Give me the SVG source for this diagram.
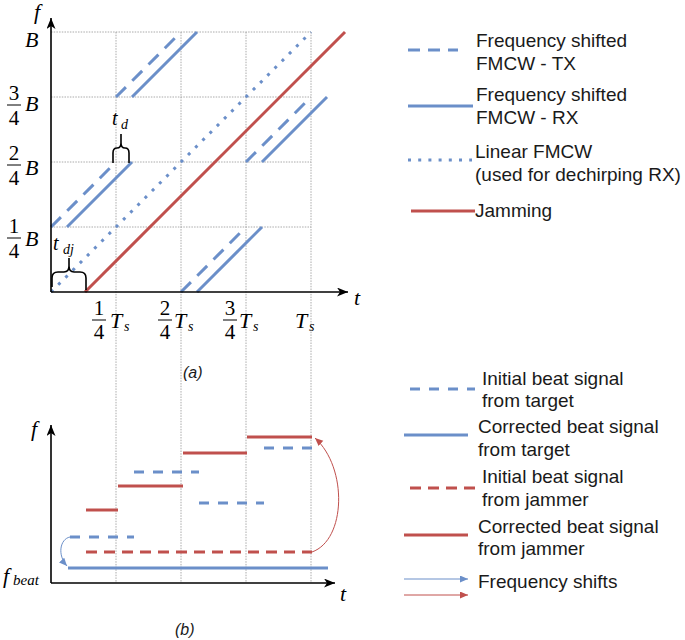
<svg xmlns="http://www.w3.org/2000/svg" width="685" height="640" viewBox="0 0 685 640">
<style>
.grid{stroke:#a0a0a0;stroke-width:0.9;stroke-dasharray:1.5 1.2;fill:none}
.axis{stroke:#000;stroke-width:1.6;fill:none}
.b{stroke:#6b8fc9;stroke-width:3;fill:none}
.r{stroke:#c0504d;stroke-width:3;fill:none}
.bd{stroke-dasharray:14 9}
.bd2{stroke-dasharray:10 9}
.rd{stroke-dasharray:11 7}
.dot{stroke-dasharray:3 7.2}
.m{font-family:"Liberation Serif","DejaVu Serif",serif;font-style:italic;fill:#000}
.n{font-family:"Liberation Serif","DejaVu Serif",serif;fill:#000;font-size:21px;text-anchor:middle}
.lg{font-family:"Liberation Sans",Arial,sans-serif;font-size:19px;fill:#1a1a1a}
.cap{font-family:"Liberation Sans",Arial,sans-serif;font-size:16px;font-style:italic;fill:#1a1a1a}
.bar{stroke:#000;stroke-width:1}
.brace{stroke:#000;stroke-width:1.6;fill:none}
</style>
<defs>
<marker id="ax" markerWidth="12" markerHeight="10" refX="11" refY="4.5" orient="auto" markerUnits="userSpaceOnUse"><path d="M0,0 L11,4.5 L0,9 L3,4.5 z" fill="#000"/></marker>
<marker id="ab" markerWidth="9" markerHeight="8" refX="8" refY="3.5" orient="auto" markerUnits="userSpaceOnUse"><path d="M0,0 L8,3.5 L0,7 z" fill="#6b8fc9"/></marker>
<marker id="ar" markerWidth="9" markerHeight="8" refX="8" refY="3.5" orient="auto" markerUnits="userSpaceOnUse"><path d="M0,0 L8,3.5 L0,7 z" fill="#c0504d"/></marker>
</defs>
<rect width="685" height="640" fill="#fff"/>

<g id="grid">
<line class="grid" x1="51" y1="32" x2="311" y2="32"/>
<line class="grid" x1="51" y1="97" x2="311" y2="97"/>
<line class="grid" x1="51" y1="162" x2="311" y2="162"/>
<line class="grid" x1="51" y1="227" x2="311" y2="227"/>
<line class="grid" x1="116" y1="32" x2="116" y2="583"/>
<line class="grid" x1="181" y1="32" x2="181" y2="583"/>
<line class="grid" x1="246" y1="32" x2="246" y2="583"/>
<line class="grid" x1="311" y1="32" x2="311" y2="583"/>
</g>

<g id="plot-a-series">
<line class="r" x1="85" y1="292" x2="345" y2="32"/>
<line class="b dot" x1="51" y1="292" x2="311" y2="32"/>
<line class="b bd" x1="51" y1="227" x2="116" y2="162"/>
<line class="b bd" x1="116" y1="97" x2="181" y2="32"/>
<line class="b bd" x1="181" y1="292" x2="246" y2="227"/>
<line class="b bd" x1="246" y1="162" x2="311" y2="97"/>
<line class="b" x1="67" y1="227" x2="132" y2="162"/>
<line class="b" x1="132" y1="97" x2="197" y2="32"/>
<line class="b" x1="197" y1="292" x2="262" y2="227"/>
<line class="b" x1="262" y1="162" x2="327" y2="97"/>
</g>

<g id="axes-a">
<line class="axis" x1="51" y1="292" x2="51" y2="18" marker-end="url(#ax)"/>
<line class="axis" x1="51" y1="292" x2="348" y2="292" marker-end="url(#ax)"/>
<text class="m" x="34" y="19" font-size="22">f</text>
<text class="m" x="354" y="305" font-size="22">t</text>
</g>

<g id="braces">
<path class="brace" d="M113,163 V153 Q113,148 117,148 Q121,148 121,143 V134 M121,143 Q121,148 125,148 Q129,148 129,153 V163"/>
<text class="m" x="112" y="125" font-size="20">t</text>
<text class="m" x="121" y="129" font-size="14">d</text>
<path class="brace" d="M52,287 V278 Q52,272 58,272 H64 Q69,272 69,266 V258 M69,266 Q69,272 74,272 H80 Q86,272 86,278 V290"/>
<text class="m" x="53" y="250" font-size="20">t</text>
<text class="m" x="63" y="254" font-size="14">dj</text>
</g>

<g id="y-labels">
<text class="m" x="25" y="47" font-size="22">B</text>
<text class="n" x="14" y="100">3</text><line class="bar" x1="7" y1="105" x2="21" y2="105"/><text class="n" x="14" y="125">4</text>
<text class="m" x="25" y="111" font-size="22">B</text>
<text class="n" x="14" y="160">2</text><line class="bar" x1="7" y1="165" x2="21" y2="165"/><text class="n" x="14" y="185">4</text>
<text class="m" x="25" y="175" font-size="22">B</text>
<text class="n" x="14" y="233">1</text><line class="bar" x1="7" y1="238" x2="21" y2="238"/><text class="n" x="14" y="258">4</text>
<text class="m" x="25" y="246" font-size="22">B</text>
</g>

<g id="x-labels">
<text class="n" x="99" y="315">1</text><line class="bar" x1="92" y1="320" x2="106" y2="320"/><text class="n" x="99" y="339">4</text>
<text class="m" x="110" y="328" font-size="22">T</text><text class="m" x="124" y="331" font-size="14">s</text>
<text class="n" x="165" y="315">2</text><line class="bar" x1="158" y1="320" x2="172" y2="320"/><text class="n" x="165" y="339">4</text>
<text class="m" x="174" y="328" font-size="22">T</text><text class="m" x="188" y="331" font-size="14">s</text>
<text class="n" x="230" y="315">3</text><line class="bar" x1="223" y1="320" x2="237" y2="320"/><text class="n" x="230" y="339">4</text>
<text class="m" x="239" y="328" font-size="22">T</text><text class="m" x="253" y="331" font-size="14">s</text>
<text class="m" x="295" y="328" font-size="22">T</text><text class="m" x="309" y="331" font-size="14">s</text>
</g>

<text class="cap" x="183" y="378">(a)</text>

<g id="legend-a">
<line class="b" x1="408" y1="50" x2="458" y2="50" style="stroke-dasharray:12 8"/>
<text class="lg" x="476" y="47">Frequency shifted</text>
<text class="lg" x="476" y="70">FMCW - TX</text>
<line class="b" x1="408" y1="106" x2="473" y2="106"/>
<text class="lg" x="476" y="101">Frequency shifted</text>
<text class="lg" x="476" y="124">FMCW - RX</text>
<line class="b dot" x1="408" y1="160" x2="472" y2="160"/>
<text class="lg" x="475" y="158">Linear FMCW</text>
<text class="lg" x="475" y="181">(used for dechirping RX)</text>
<line class="r" x1="411" y1="211" x2="475" y2="211"/>
<text class="lg" x="475" y="217">Jamming</text>
</g>

<g id="plot-b-series">
<line class="r" x1="86" y1="510" x2="118" y2="510"/>
<line class="r" x1="118" y1="486" x2="183" y2="486"/>
<line class="r" x1="183" y1="453" x2="247" y2="453"/>
<line class="r" x1="247" y1="437" x2="312" y2="437"/>
<line class="b bd2" x1="70" y1="537" x2="134" y2="537"/>
<line class="b bd2" x1="134" y1="472" x2="199" y2="472"/>
<line class="b bd2" x1="199" y1="503" x2="264" y2="503"/>
<line class="b bd2" x1="264" y1="448" x2="312" y2="448"/>
<line class="r rd" x1="86" y1="552" x2="312" y2="552"/>
<line class="b" x1="68" y1="568" x2="328" y2="568"/>
</g>

<g id="connectors">
<path d="M70,537 C60,539 57,555 67,566" stroke="#6b8fc9" stroke-width="1" fill="none" marker-end="url(#ab)"/>
<path d="M312,552 C346,540 348,468 315,438" stroke="#c0504d" stroke-width="1" fill="none" marker-end="url(#ar)"/>
</g>

<g id="axes-b">
<line class="axis" x1="51" y1="583" x2="51" y2="425" marker-end="url(#ax)"/>
<line class="axis" x1="51" y1="583" x2="335" y2="583" marker-end="url(#ax)"/>
<text class="m" x="31" y="436" font-size="22">f</text>
<text class="m" x="3" y="583" font-size="22">f</text>
<text class="m" x="13" y="585" font-size="15">beat</text>
<text class="m" x="340" y="601" font-size="22">t</text>
</g>

<text class="cap" x="175" y="635">(b)</text>

<g id="legend-b">
<line class="b bd2" x1="410" y1="389" x2="475" y2="389"/>
<text class="lg" x="482" y="385">Initial beat signal</text>
<text class="lg" x="482" y="407">from target</text>
<line class="b" x1="404" y1="435" x2="468" y2="435"/>
<text class="lg" x="478" y="433">Corrected beat signal</text>
<text class="lg" x="478" y="456">from target</text>
<line class="r rd" x1="410" y1="488" x2="475" y2="488"/>
<text class="lg" x="482" y="483">Initial beat signal</text>
<text class="lg" x="482" y="506">from jammer</text>
<line class="r" x1="404" y1="535" x2="468" y2="535"/>
<text class="lg" x="478" y="533">Corrected beat signal</text>
<text class="lg" x="478" y="555">from jammer</text>
<line x1="404" y1="579" x2="468" y2="579" stroke="#6b8fc9" stroke-width="1" marker-end="url(#ab)"/>
<line x1="404" y1="595" x2="468" y2="595" stroke="#c0504d" stroke-width="1" marker-end="url(#ar)"/>
<text class="lg" x="478" y="588">Frequency shifts</text>
</g>
</svg>
